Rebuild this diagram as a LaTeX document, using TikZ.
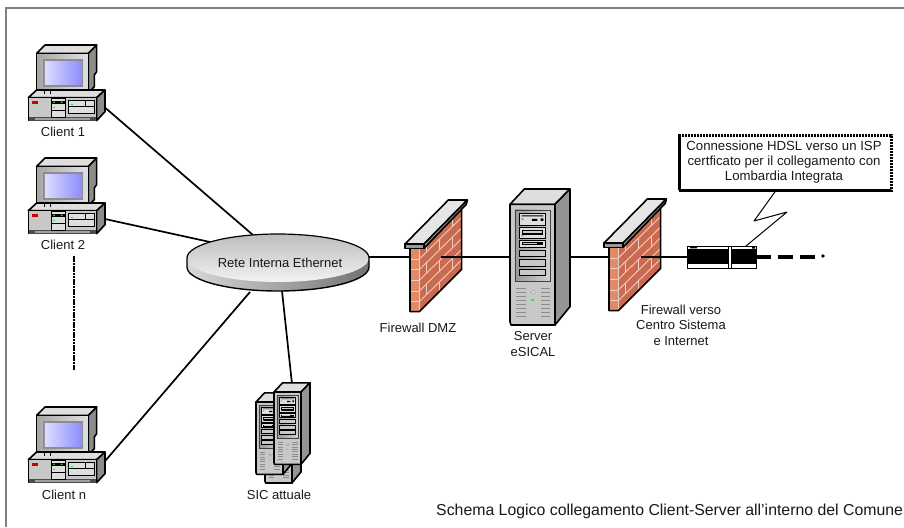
\documentclass[tikz,border=0pt]{standalone}
\usepackage{fontspec}
\setmainfont{Liberation Sans}
\usetikzlibrary{calc}
\definecolor{bordergray}{HTML}{808080}
\definecolor{caseg}{HTML}{C8C8C8}
\definecolor{casel}{HTML}{DEDEDE}
\definecolor{cased}{HTML}{8C8C8C}
\definecolor{brick}{HTML}{CC6A50}
\definecolor{bricklight}{HTML}{E08A68}
\definecolor{mortar}{HTML}{EBCFC2}
\definecolor{ledgreen}{HTML}{22DD22}
\tikzset{
  unit/.style={x=1pt,y=-1pt},
  wire/.style={draw=black,line width=1.7pt},
  mainout/.style={draw=black,line width=1.6pt,line join=round},
  lbl/.style={font=\fontsize{13}{15.5}\selectfont,text=black!90,inner sep=0pt,align=center},
}
\newcommand{\clientpc}[2]{%
\begin{scope}[shift={(#1,#2)},x=0.3333pt,y=-0.3333pt]
  % monitor
  \filldraw[mainout,fill=casel] (110,70)--(135,45)--(290,45)--(265,70)--cycle;
  \filldraw[mainout,fill=cased] (265,70)--(290,45)--(290,125)--(283,135)--(283,170)--(265,190)--cycle;
  \filldraw[mainout,left color=black!35,right color=black!12] (110,70) rectangle (265,190);
  \fill[black!45] (128,88) rectangle (250,172);
  \shade[left color=white!70!blue!45,right color=blue!45!white] (135,94) rectangle (245,164);
  \fill[ledgreen] (250,178) rectangle (258,184);
  % base
  \filldraw[mainout,fill=casel] (85,203)--(110,180)--(315,180)--(290,203)--cycle;
  \filldraw[mainout,fill=cased] (290,203)--(315,180)--(315,245)--(290,272)--cycle;
  \filldraw[mainout,fill=caseg] (85,203) rectangle (290,272);
  \draw[black,line width=0.8pt] (132,182)--(132,192) (152,182)--(152,192);
  \fill[red!80!black] (97,213) rectangle (113,221);
  \fill[black!70] (88,262) rectangle (288,272);
  \fill[caseg!80!black] (106,263) rectangle (270,271);
  \filldraw[draw=black,line width=0.6pt,fill=casel] (155,205) rectangle (195,262);
  \fill[black] (155,212) rectangle (195,222);
  \fill[ledgreen] (160,215) rectangle (165,219) (183,215) rectangle (188,219) (160,231) rectangle (165,234);
  \draw[black,line width=0.5pt] (155,240)--(195,240);
  \filldraw[draw=black,line width=0.7pt,fill=casel] (205,212) rectangle (283,250);
  \draw[black,line width=0.5pt] (205,228)--(283,228) (257,212)--(257,228);
  \fill[ledgreen] (213,221) rectangle (219,225);
\end{scope}}
\newcommand{\firewall}[2]{%
\begin{scope}[shift={(#1,#2)},x=0.3333pt,y=-0.3333pt]
  \fill[bricklight] (90,235) rectangle (118,425);
  \fill[brick] (118,235)--(245,110)--(245,298)--(118,425)--cycle;
  \begin{scope}
    \clip (118,235)--(245,110)--(245,298)--(118,425)--cycle;
    \foreach \k in {0,...,9}{
      \draw[mortar,line width=0.9pt] (118,{235+\k*32})--(245,{110+\k*32});
      \foreach \j in {0,...,2}{
        \pgfmathsetmacro{\xx}{118+((mod(\k,2)==0)?22:60)+\j*76}
        \pgfmathsetmacro{\yy}{235+\k*32-(\xx-118)*0.984}
        \draw[mortar,line width=0.9pt] (\xx,\yy)--(\xx,\yy+32);
      }
    }
  \end{scope}
  \foreach \k in {1,...,5}{\draw[mortar,line width=0.9pt] (90,{235+\k*32})--(118,{235+\k*32});}
  \draw[mortar,line width=1pt] (118,235)--(118,425);
  \draw[mainout] (90,235)--(90,425)--(118,425)--(245,298)--(245,110);
  \filldraw[mainout,fill=black!10] (75,222)--(205,90)--(262,90)--(132,222)--cycle;
  \filldraw[mainout,fill=black!40] (75,222)--(132,222)--(132,235)--(75,235)--cycle;
  \filldraw[mainout,fill=black!40] (132,222)--(262,90)--(259,103)--(132,235)--cycle;
\end{scope}}
% tower: drawn in the coordinates of the eSICAL server, scaled by #3
\newcommand{\towerbox}[3]{%
\begin{scope}[shift={(#1,#2)},x=#3*0.3333pt,y=-#3*0.3333pt]
  \filldraw[mainout,fill=casel] (390,103)--(433,57)--(570,57)--(525,103)--cycle;
  \filldraw[mainout,fill=black!42] (525,103)--(570,57)--(570,410)--(525,465)--cycle;
  \filldraw[mainout,fill=caseg] (390,103)--(525,103)--(525,465)--(393,465)--(390,455)--cycle;
  \filldraw[draw=black!75,line width=0.9pt,left color=black!40,right color=black!18] (405,120) rectangle (510,335);
  \filldraw[draw=black,line width=0.8pt,fill=casel] (418,130) rectangle (497,165);
  \filldraw[draw=black,line width=0.8pt,fill=casel] (418,172) rectangle (497,205);
  \filldraw[draw=black,line width=0.8pt,fill=casel] (418,210) rectangle (497,232);
  \filldraw[draw=black,line width=0.8pt,fill=caseg] (418,240) rectangle (497,260);
  \filldraw[draw=black,line width=0.8pt,fill=caseg] (418,268) rectangle (497,290);
  \filldraw[draw=black,line width=0.8pt,fill=caseg] (418,297) rectangle (497,317);
  \fill[black] (425,136) rectangle (490,139) (456,147) rectangle (472,153) (482,145) rectangle (490,153);
  \fill[black] (425,180) rectangle (490,196);
  \fill[white!80!black] (428,184) rectangle (487,188);
  \fill[black] (425,216) rectangle (490,226);
  \fill[white!80!black] (428,218) rectangle (470,221);
  \fill[ledgreen] (424,145) rectangle (431,150) (424,195) rectangle (431,199);
  \foreach \r in {0,...,7}{
    \draw[black!45,line width=1pt] (408,{355+\r*12})--(437,{355+\r*12});
    \draw[black!45,line width=1pt] (482,{355+\r*12})--(510,{355+\r*12});
  }
  \draw[black!35,line width=0.6pt,fill=caseg!70!white] (460,367) circle (6);
  \fill[green!90!yellow] (453,387) rectangle (461,393);
\end{scope}}
\begin{document}
\begin{tikzpicture}[unit]
\useasboundingbox (0,0) rectangle (904,527);
\fill[white] (0,0) rectangle (904,527);
% frame
\draw[bordergray,line width=2pt] (904,8)--(6.1,8)--(6.1,527);

% connection end points
\coordinate (c1end) at (102,105);
\coordinate (c2end) at (105,219);
\coordinate (cnend) at (100,467);
\coordinate (rtop1) at (253,235);
\coordinate (rtop2) at (210,242);
\coordinate (rbot1) at (250,292);
\coordinate (rbot2) at (282,291);
\coordinate (sicend) at (292,384);
\coordinate (rright) at (368,257);
\coordinate (fw1l) at (411,257);
\coordinate (fw1r) at (441,257);
\coordinate (srvl) at (511,257);
\coordinate (srvr) at (562,257);
\coordinate (fw2l) at (610,257);
\coordinate (fw2r) at (641,257);
\coordinate (modl) at (688,257);
\coordinate (modr) at (756,257);
\coordinate (lineend) at (818,257);
\coordinate (calloutfoot) at (777,189);
\coordinate (zig1) at (754,221);
\coordinate (zig2) at (787,212);
\coordinate (modtop) at (746,246);
\coordinate (dots1) at (74,256);
\coordinate (dots2) at (74,370);

% wires under the devices
\draw[wire] (c1end)--(rtop1);
\draw[wire] (c2end)--(rtop2);
\draw[wire] (cnend)--(rbot1);
\draw[wire] (rbot2)--(sicend);
\draw[wire] (rright)--(fw1l);
\draw[wire] (srvr)--(fw2l);

% dotted column
\draw[black,line width=2.9pt,dash pattern=on 2.6pt off 0.7pt] (dots1)--(dots2);

% clients
\clientpc{0}{30}
\clientpc{0}{143}
\clientpc{0}{392}

% network disc (a scope with y pointing up, so that the arcs run as usual)
\begin{scope}[shift={(278,258)},x=1pt,y=1pt]
  \shade[left color=black!15,right color=black!55] (-91,0)--(-91,-9) arc[start angle=180,end angle=360,x radius=91pt,y radius=24pt]--(91,0)--cycle;
  \shade[top color=black!26,bottom color=black!5] (0,0) ellipse [x radius=91pt,y radius=24pt];
  \draw[black,line width=1.2pt] (-91,0) arc[start angle=180,end angle=0,x radius=91pt,y radius=24pt];
  \draw[black,line width=1.4pt] (-91,0)--(-91,-9) arc[start angle=180,end angle=360,x radius=91pt,y radius=24pt]--(91,0);
\end{scope}

% firewalls and server
\firewall{380}{170}
\towerbox{380}{170}{1}
\firewall{579}{169}
\draw[wire] (fw1r)--(srvl);
\draw[wire] (fw2r)--(modl);

% SIC servers
\towerbox{187}{390}{0.6}
\towerbox{178}{381.4}{0.6}
\towerbox{196}{371.4}{0.6}

% modem
\filldraw[draw=black,line width=1pt,fill=white] (687,246) rectangle (756,268);
\fill[black] (687,249) rectangle (756,264);
\fill[white] (728.5,246.5) rectangle (731.5,267.5);
\draw[black,line width=0.6pt] (728.5,246)--(728.5,268) (731.5,246)--(731.5,268);
\fill[black] (690,247) rectangle (697,248.3) (752,247) rectangle (755,248.5);

% dashed line to the outside
\draw[black,line width=3.2pt,dash pattern=on 15pt off 7pt] (modr)--(lineend);
\fill[black] (823,256) circle (1.8);

% callout
\draw[black,line width=1pt,line join=round] (calloutfoot)--(zig1)--(zig2)--(modtop);
\node[draw=black,line width=2.8pt,dash pattern=on 2.4pt off 0.6pt,fill=white,minimum width=212pt,minimum height=55pt,inner sep=0pt,anchor=north west] (callout) at (678,134) {};
\node[lbl,font=\fontsize{13.2}{14.7}\selectfont] (calltext) at (784,162) {Connessione HDSL verso un ISP\\certficato per il collegamento con\\Lombardia Integrata};

% labels
\node[lbl] (retelbl) at (280,263) {Rete Interna Ethernet};
\node[lbl] (client1) at (63,132) {Client 1};
\node[lbl] (client2) at (63,245) {Client 2};
\node[lbl] (clientn) at (64,495) {Client n};
\node[lbl] (sic) at (279,495) {SIC attuale};
\node[lbl] (fwdmz) at (418,328) {Firewall DMZ};
\node[lbl] (srvlbl) at (533,344) {Server\\eSICAL};
\node[lbl] (fw2lbl) at (681,325) {Firewall verso\\Centro Sistema\\e Internet};
\node[lbl,anchor=west,font=\fontsize{15.85}{18}\selectfont] (schema) at (436,511.5) {Schema Logico collegamento Client-Server all’interno del Comune};
\end{tikzpicture}
\end{document}
